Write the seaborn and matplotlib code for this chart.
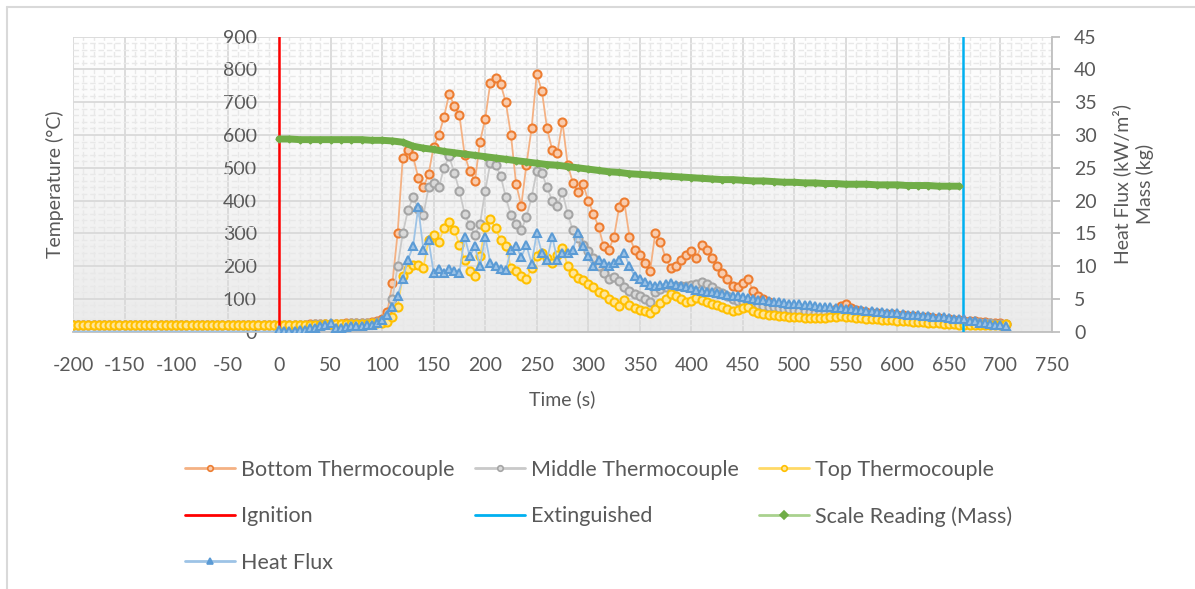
import numpy as np
import pandas as pd
import seaborn as sns
import matplotlib.pyplot as plt
from matplotlib.lines import Line2D
from matplotlib.ticker import MultipleLocator
from matplotlib.colors import LinearSegmentedColormap


#1. Data (5 s steps from -200 s to 705 s)
time_s = np.arange(-200, 710, 5)

bottom_tc = [
    20, 20, 20, 20, 20, 20, 20, 20, 20, 20,
    20, 20, 20, 20, 20, 20, 20, 20, 20, 20,
    20, 20, 20, 20, 20, 20, 20, 20, 20, 20,
    20, 20, 20, 20, 20, 20, 20, 20, 20, 20,
    20, 20, 21, 21, 22, 22, 23, 23, 24, 24,
    25, 25, 25, 26, 26, 27, 27, 28, 29, 32,
    38, 60, 150, 300, 530, 555, 535, 470, 440, 480,
    565, 600, 655, 725, 690, 660, 540, 490, 460, 580,
    650, 760, 775, 755, 700, 600, 450, 385, 510, 620,
    785, 735, 620, 555, 545, 640, 510, 455, 425, 450,
    400, 360, 320, 260, 250, 290, 380, 395, 290, 250,
    235, 210, 185, 300, 275, 225, 195, 200, 220, 235,
    245, 225, 265, 250, 225, 200, 180, 160, 140, 135,
    150, 160, 125, 110, 100, 90, 82, 78, 72, 68,
    65, 62, 60, 58, 60, 62, 60, 62, 70, 78,
    84, 72, 65, 62, 60, 58, 57, 55, 54, 53,
    52, 50, 49, 48, 46, 45, 44, 42, 41, 40,
    38, 37, 35, 34, 33, 32, 31, 30, 28, 27,
    26, 25]

middle_tc = [
    20, 20, 20, 20, 20, 20, 20, 20, 20, 20,
    20, 20, 20, 20, 20, 20, 20, 20, 20, 20,
    20, 20, 20, 20, 20, 20, 20, 20, 20, 20,
    20, 20, 20, 20, 20, 20, 20, 20, 20, 20,
    20, 20, 21, 21, 22, 22, 22, 23, 23, 24,
    24, 24, 25, 25, 26, 26, 27, 27, 28, 30,
    34, 45, 100, 200, 300, 370, 410, 375, 355, 440,
    455, 440, 500, 535, 485, 430, 360, 325, 295, 330,
    430, 515, 510, 475, 410, 355, 330, 310, 350, 410,
    490, 485, 440, 400, 385, 425, 360, 310, 285, 265,
    245, 225, 200, 180, 160, 168, 155, 135, 125, 115,
    110, 100, 92, 120, 130, 135, 140, 140, 138, 140,
    142, 145, 152, 145, 135, 125, 117, 108, 100, 95,
    92, 88, 84, 81, 78, 76, 74, 72, 70, 68,
    66, 64, 62, 60, 58, 57, 56, 55, 55, 56,
    56, 54, 52, 51, 50, 49, 48, 47, 46, 45,
    44, 43, 42, 41, 40, 39, 38, 37, 36, 35,
    34, 33, 32, 31, 30, 29, 28, 27, 26, 25,
    24, 23]

top_tc = [
    20, 20, 20, 20, 20, 20, 20, 20, 20, 20,
    20, 20, 20, 20, 20, 20, 20, 20, 20, 20,
    20, 20, 20, 20, 20, 20, 20, 20, 20, 20,
    20, 20, 20, 20, 20, 20, 20, 20, 20, 20,
    20, 20, 20, 21, 21, 21, 22, 22, 22, 23,
    23, 23, 24, 24, 24, 25, 25, 25, 26, 26,
    27, 30, 45, 76, 170, 190, 205, 205, 195, 280,
    295, 275, 315, 335, 310, 265, 220, 185, 170, 230,
    320, 345, 315, 280, 260, 195, 185, 170, 160, 195,
    230, 240, 225, 210, 235, 255, 200, 178, 165, 158,
    145, 135, 120, 115, 100, 92, 78, 97, 82, 72,
    66, 62, 58, 70, 87, 100, 115, 110, 100, 92,
    95, 102, 98, 92, 85, 80, 76, 68, 62, 65,
    72, 74, 62, 57, 54, 52, 50, 49, 47, 46,
    45, 44, 43, 42, 41, 41, 42, 44, 46, 47,
    46, 44, 42, 41, 40, 39, 38, 37, 36, 35,
    34, 33, 32, 31, 30, 29, 28, 27, 26, 25,
    24, 23, 22, 22, 21, 21, 21, 21, 21, 21,
    22, 23]

heat_flux = [
    0, 0, 0, 0, 0, 0, 0, 0, 0, 0,
    0, 0, 0, 0, 0, 0, 0, 0, 0, 0,
    0, 0, 0, 0, 0, 0, 0, 0, 0, 0,
    0, 0, 0, 0, 0, 0, 0, 0, 0, 0,
    0.3, 0.1, 0.1, 0.1, 0.2, 0.3, 0.5, 0.6, 0.8, 1.0,
    1.3, 0.5, 0.6, 0.7, 0.8, 0.9, 0.9, 1.0, 1.1, 1.3,
    1.8, 2.6, 3.8, 5.5, 8.0, 11.0, 13.0, 19.0, 12.5, 14.0,
    9.0, 9.5, 9.0, 9.5, 9.3, 9.0, 14.5, 11.5, 13.0, 10.0,
    14.5, 10.5, 10.0, 9.6, 9.4, 12.5, 13.0, 11.4, 13.2, 10.4,
    15.0, 12.0, 11.0, 14.5, 11.0, 12.0, 12.0, 12.5, 15.0, 13.0,
    11.5, 10.0, 11.0, 10.5, 10.0, 10.5, 11.0, 12.0, 10.0, 8.5,
    8.0, 7.6, 7.2, 7.0, 7.2, 7.3, 7.4, 7.2, 7.0, 6.8,
    6.6, 6.4, 6.2, 6.1, 6.0, 5.9, 5.7, 5.6, 5.5, 5.4,
    5.3, 5.2, 5.0, 4.9, 4.8, 4.7, 4.6, 4.5, 4.4, 4.3,
    4.3, 4.2, 4.1, 4.0, 3.9, 3.8, 3.8, 3.7, 3.6, 3.6,
    3.5, 3.4, 3.3, 3.3, 3.2, 3.1, 3.0, 3.0, 2.9, 2.8,
    2.8, 2.7, 2.6, 2.6, 2.5, 2.4, 2.4, 2.3, 2.2, 2.2,
    2.1, 2.0, 1.9, 1.9, 1.7, 1.6, 1.4, 1.3, 1.2, 1.1,
    1.0, 0.9]

# scale reading, 10 s steps from ignition to extinguishing
time_mass = np.arange(0, 670, 10)
mass_kg = [
    29.4, 29.4, 29.3, 29.3, 29.3, 29.3, 29.3, 29.3, 29.3, 29.2,
    29.2, 29.1, 28.9, 28.3, 28.0, 27.8, 27.5, 27.3, 27.1, 26.9,
    26.7, 26.5, 26.3, 26.1, 25.9, 25.7, 25.5, 25.4, 25.2, 25.0,
    24.8, 24.6, 24.4, 24.3, 24.1, 24.0, 23.9, 23.8, 23.7, 23.6,
    23.5, 23.4, 23.3, 23.2, 23.2, 23.1, 23.0, 23.0, 22.9, 22.8,
    22.8, 22.7, 22.7, 22.6, 22.6, 22.5, 22.5, 22.5, 22.4, 22.4,
    22.4, 22.3, 22.3, 22.3, 22.2, 22.2, 22.2]

ignition_time = 0
extinguished_time = 664

df = pd.DataFrame({'Time': time_s, 'Bottom': bottom_tc, 'Middle': middle_tc,
                   'Top': top_tc, 'Heat Flux': heat_flux})
df_mass = pd.DataFrame({'Time': time_mass, 'Mass': mass_kg})


#2. Style
sns.set_style("white")
plt.rcParams['font.family'] = ['Lato', 'DejaVu Sans']
plt.rcParams['axes.unicode_minus'] = False
txt = '#595959'
fs = 14

fig = plt.figure(figsize=(11.95, 5.89), dpi=100)
ax = fig.add_axes([0.0611, 0.4368, 0.8192, 0.5009])

# plot area background fades to light grey at the bottom
bg = LinearSegmentedColormap.from_list('bg', ['#ffffff', '#ebebeb'])
ax.imshow(np.linspace(0, 1, 256)[:, None], extent=[-200, 750, 0, 900],
          aspect='auto', cmap=bg, zorder=0)

#3. Temperatures
styles = {
    'Bottom': ('#ED7D31', '#F8CBAD', '#F4B183', 'o'),
    'Middle': ('#A5A5A5', '#D9D9D9', '#C9C9C9', 'o'),
    'Top': ('#FFC000', '#FFE699', '#FFD966', 'o'),
}
for col, (edge, face, line, mk) in styles.items():
    sns.lineplot(data=df, x='Time', y=col, ax=ax, color=line, linewidth=1.3,
                 marker=mk, markersize=5.8, markerfacecolor=face,
                 markeredgecolor=edge, markeredgewidth=1.5, legend=False, zorder=2)

ax.set_xlim(-200, 750)
ax.set_ylim(0, 900)
ax.xaxis.set_major_locator(MultipleLocator(50))
ax.xaxis.set_minor_locator(MultipleLocator(10))
ax.yaxis.set_major_locator(MultipleLocator(100))
ax.yaxis.set_minor_locator(MultipleLocator(20))
ax.set_axisbelow(True)
ax.grid(which='major', color='#d9d9d9', linewidth=1.3)
ax.grid(which='minor', color='#e8e8e8', linewidth=1.0, linestyle=(0, (4, 2)))

ax.spines['left'].set_position(('data', 0))
ax.spines['left'].set_color('none')
ax.spines['top'].set_visible(False)
ax.spines['right'].set_visible(False)
ax.spines['bottom'].set_color('#bfbfbf')
ax.spines['bottom'].set_linewidth(1.3)
ax.tick_params(axis='x', which='both', length=0, pad=18, labelsize=fs, labelcolor=txt)
ax.tick_params(axis='y', which='both', length=0, pad=16, labelsize=fs, labelcolor=txt)

ax.set_xlabel('Time (s)', fontsize=fs, color=txt)
ax.xaxis.set_label_coords(0.4995, -0.198)
ax.set_ylabel('Temperature (°C)', fontsize=fs, color=txt)
ax.yaxis.set_label_coords(-0.009, 0.5)

#4. Mass and heat flux on the secondary axis
ax2 = ax.twinx()
ax2.axvline(ignition_time, color='#FF0000', linewidth=1.8, zorder=1.5)
ax2.axvline(extinguished_time, color='#00B0F0', linewidth=1.8, zorder=1.5)

sns.lineplot(data=df_mass, x='Time', y='Mass', ax=ax2, color='#70AD47',
             linewidth=5, marker='D', markersize=3.5, markerfacecolor='#70AD47',
             markeredgecolor='#70AD47', markeredgewidth=1, legend=False, zorder=2)

show_marker = (df['Time'] >= 0).to_numpy()
sns.lineplot(data=df, x='Time', y='Heat Flux', ax=ax2, color='#9DC3E6', linewidth=1.3,
             marker='^', markersize=6, markerfacecolor='#9DC3E6',
             markeredgecolor='#5B9BD5', markeredgewidth=1.5, markevery=show_marker,
             legend=False, zorder=2.1)

ax2.set_xlim(-200, 750)
ax2.set_ylim(0, 45)
ax2.yaxis.set_major_locator(MultipleLocator(5))
for s in ['top', 'left', 'bottom']:
    ax2.spines[s].set_visible(False)
ax2.spines['right'].set_color('#bfbfbf')
ax2.spines['right'].set_linewidth(1.3)
ax2.tick_params(axis='y', length=6, width=1.3, color='#bfbfbf', pad=10,
                labelsize=fs, labelcolor=txt)
ax2.set_ylabel('Heat Flux (kW/m²)\nMass (kg)', fontsize=fs, color=txt, linespacing=1.3)
ax2.yaxis.set_label_coords(1.062, 0.5)

#5. Legend
def proxy(line, edge, face, mk):
    return Line2D([], [], color=line, linewidth=2, marker=mk, markersize=4,
                  markerfacecolor=face, markeredgecolor=edge, markeredgewidth=1.2)

h_bottom = proxy('#F4B183', '#ED7D31', '#F8CBAD', 'o')
h_middle = proxy('#C9C9C9', '#A5A5A5', '#D9D9D9', 'o')
h_top = proxy('#FFD966', '#FFC000', '#FFE699', 'o')
h_ign = Line2D([], [], color='#FF0000', linewidth=2)
h_ext = Line2D([], [], color='#00B0F0', linewidth=2)
h_mass = proxy('#A9D18E', '#70AD47', '#70AD47', 'D')
h_hf = proxy('#9DC3E6', '#5B9BD5', '#5B9BD5', '^')

handles = [h_bottom, h_ign, h_hf, h_middle, h_ext, h_top, h_mass]
labels = ['Bottom Thermocouple', 'Ignition', 'Heat Flux', 'Middle Thermocouple',
          'Extinguished', 'Top Thermocouple', 'Scale Reading (Mass)']
lfs = 15.5
leg = fig.legend(handles, labels, ncol=3, loc='upper left', bbox_to_anchor=(0.1548, 0.219),
                 frameon=False, fontsize=lfs, handlelength=2.33, handletextpad=0.28,
                 columnspacing=0.93, labelspacing=1.22, borderpad=0, borderaxespad=0)
for t in leg.get_texts():
    t.set_color(txt)

# chart border (left and top edges)
fig.add_artist(Line2D([7 / 1195, 7 / 1195], [0, 1 - 7 / 589], transform=fig.transFigure,
                      color='#d9d9d9', linewidth=1.5))
fig.add_artist(Line2D([7 / 1195, 1], [1 - 7 / 589, 1 - 7 / 589], transform=fig.transFigure,
                      color='#d9d9d9', linewidth=1.5))

plt.savefig('out.png', dpi=100)
